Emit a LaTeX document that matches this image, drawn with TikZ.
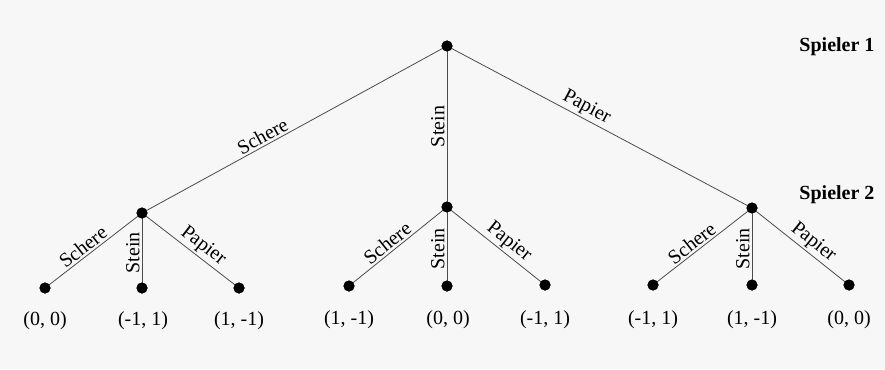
\documentclass[tikz,border=0pt]{standalone}
\usepackage{fontspec}
\setmainfont{Liberation Serif}
\begin{document}
\begin{tikzpicture}[x=1pt,y=-1pt,
  dot/.style={circle,fill=black,inner sep=0pt,minimum size=11pt},
  edge/.style={draw=black!70,line width=0.8pt},
  elab/.style={sloped,above,inner sep=2pt,font=\fontsize{20}{22}\selectfont},
  pay/.style={font=\fontsize{20}{22}\selectfont},
  player/.style={anchor=east,font=\fontsize{20}{22}\selectfont\bfseries}]
\fill[white!97!black] (0,0) rectangle (885,369);
\useasboundingbox (0,0) rectangle (885,369);
% nodes
\node[dot] (r) at (447,46) {};
\node[dot] (a) at (142,213) {};
\node[dot] (b) at (447,207) {};
\node[dot] (c) at (752,208) {};
\node[dot] (a1) at (45,288) {};
\node[dot] (a2) at (142,288) {};
\node[dot] (a3) at (239,288) {};
\node[dot] (b1) at (349,286) {};
\node[dot] (b2) at (447,286) {};
\node[dot] (b3) at (545,285) {};
\node[dot] (c1) at (653,285) {};
\node[dot] (c2) at (752,285) {};
\node[dot] (c3) at (849,285) {};
% edges
\draw[edge] (r.center) -- node[elab,pos=0.59]{Schere} (a.center);
\draw[edge] (b.center) -- node[elab,pos=0.5]{Stein} (r.center);
\draw[edge] (r.center) -- node[elab,pos=0.44]{Papier} (c.center);
\foreach \p in {a,b,c}{
  \draw[edge] (\p.center) -- node[elab,pos=0.55]{Schere} (\p1.center);
  \draw[edge] (\p2.center) -- node[elab,pos=0.47]{Stein} (\p.center);
  \draw[edge] (\p.center) -- node[elab,pos=0.56]{Papier} (\p3.center);
}
% redraw dots on top
\foreach \n in {r,a,b,c,a1,a2,a3,b1,b2,b3,c1,c2,c3}{\fill (\n) circle (5.5pt);}
% payoffs
\node[pay] (pa1) at (45,321) {(0, 0)};
\node[pay] (pa2) at (143,321) {(-1, 1)};
\node[pay] (pa3) at (239,321) {(1, -1)};
\node[pay] (pb1) at (349,320) {(1, -1)};
\node[pay] (pb2) at (448,320) {(0, 0)};
\node[pay] (pb3) at (545,320) {(-1, 1)};
\node[pay] (pc1) at (653,320) {(-1, 1)};
\node[pay] (pc2) at (752,320) {(1, -1)};
\node[pay] (pc3) at (849,320) {(0, 0)};
% players
\node[player] (s1) at (878,47) {Spieler 1};
\node[player] (s2) at (878,195) {Spieler 2};
\end{tikzpicture}
\end{document}
